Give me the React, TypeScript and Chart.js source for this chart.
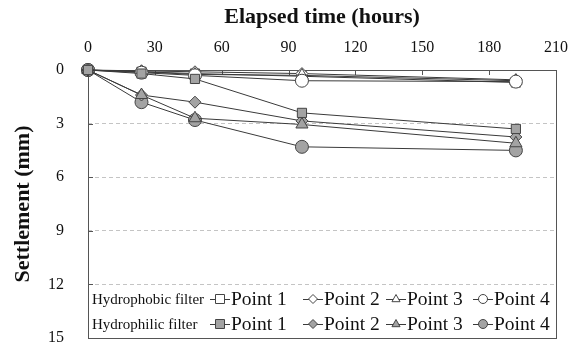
import React, { useEffect, useRef } from "react";
import { Chart, registerables } from "chart.js";

Chart.register(...registerables);

const hours = [0, 24, 48, 96, 192];
const phobic1 = [0, 0.1, 0.2, 0.35, 0.7];
const phobic2 = [0, 0.05, 0.1, 0.2, 0.55];
const phobic3 = [0, 0.1, 0.25, 0.3, 0.6];
const phobic4 = [0, 0.15, 0.3, 0.6, 0.65];
const philic1 = [0, 0.2, 0.5, 2.4, 3.3];
const philic2 = [0, 1.4, 1.8, 2.85, 3.75];
const philic3 = [0, 1.4, 2.7, 3.05, 4.1];
const philic4 = [0, 1.8, 2.8, 4.3, 4.5];

const xTicks = [0, 30, 60, 90, 120, 150, 180, 210];
const yTicks = [0, 3, 6, 9, 12, 15];
const pointLabels = ["Point 1", "Point 2", "Point 3", "Point 4"];
const groupLabels = ["Hydrophobic filter", "Hydrophilic filter"];

const FONT = "'Liberation Serif', 'Times New Roman', serif";
const LINE = "#3a3a3a";
const EDGE = "#444";
const FILL_OPEN = "#ffffff";
const FILL_GREY = "#a3a3a3";
const shapes = ["rect", "rectRot", "triangle", "circle"] as const;
const radii = [6.5, 6, 7, 6.5];

function drawMarker(ctx: CanvasRenderingContext2D, shape: string, x: number, y: number, r: number, fill: string) {
  ctx.save();
  ctx.beginPath();
  if (shape === "rect") {
    ctx.rect(x - r, y - r, 2 * r, 2 * r);
  } else if (shape === "rectRot") {
    ctx.moveTo(x, y - r);
    ctx.lineTo(x + r, y);
    ctx.lineTo(x, y + r);
    ctx.lineTo(x - r, y);
    ctx.closePath();
  } else if (shape === "triangle") {
    ctx.moveTo(x, y - r);
    ctx.lineTo(x + r * 0.9, y + r * 0.6);
    ctx.lineTo(x - r * 0.9, y + r * 0.6);
    ctx.closePath();
  } else {
    ctx.arc(x, y, r, 0, Math.PI * 2);
  }
  ctx.fillStyle = fill;
  ctx.fill();
  ctx.strokeStyle = EDGE;
  ctx.lineWidth = 1;
  ctx.stroke();
  ctx.restore();
}

const framePlugin = {
  id: "frame",
  beforeDatasetsDraw(chart: any) {
    const { ctx, chartArea } = chart;
    const { left, right, top, bottom } = chartArea;
    ctx.save();
    ctx.strokeStyle = "#555";
    ctx.lineWidth = 1;
    ctx.strokeRect(Math.round(left) + 0.5, Math.round(top) + 0.5, Math.round(right - left), Math.round(bottom - top));
    const xs = chart.scales.x;
    const ys = chart.scales.y;
    ctx.beginPath();
    xTicks.forEach((v) => {
      const px = Math.round(xs.getPixelForValue(v)) + 0.5;
      ctx.moveTo(px, top);
      ctx.lineTo(px, top + 5);
    });
    yTicks.forEach((v) => {
      const py = Math.round(ys.getPixelForValue(v)) + 0.5;
      ctx.moveTo(left, py);
      ctx.lineTo(left + 5, py);
    });
    ctx.stroke();
    ctx.restore();
  },
  afterDraw(chart: any) {
    const { ctx, chartArea } = chart;
    const { left, bottom } = chartArea;
    ctx.save();
    const markerX = [132, 225, 308, 395];
    const textX = [143, 236, 319, 406];
    const rowY = [bottom - 39, bottom - 14];
    groupLabels.forEach((g, gi) => {
      const y = rowY[gi];
      ctx.fillStyle = "#111";
      ctx.font = `15px ${FONT}`;
      ctx.textAlign = "left";
      ctx.textBaseline = "middle";
      ctx.fillText(g, left + 4, y + 1);
      pointLabels.forEach((p, pi) => {
        const mx = left + markerX[pi];
        ctx.beginPath();
        ctx.strokeStyle = LINE;
        ctx.lineWidth = 1;
        ctx.moveTo(mx - 10, y + 0.5);
        ctx.lineTo(mx + 10, y + 0.5);
        ctx.stroke();
        drawMarker(ctx, shapes[pi], mx, y, 4.5, gi === 0 ? FILL_OPEN : FILL_GREY);
        ctx.fillStyle = "#111";
        ctx.font = `19.5px ${FONT}`;
        ctx.fillText(p, left + textX[pi], y + 1);
      });
    });
    ctx.restore();
  },
};

function makeSet(label: string, values: number[], idx: number, filled: boolean, order: number) {
  return {
    label,
    data: hours.map((h, i) => ({ x: h, y: values[i] })),
    borderColor: LINE,
    borderWidth: 1,
    pointStyle: shapes[idx],
    pointRadius: radii[idx],
    pointBackgroundColor: filled ? FILL_GREY : FILL_OPEN,
    pointBorderColor: EDGE,
    pointBorderWidth: 1,
    fill: false,
    tension: 0,
    clip: false,
    order,
  };
}

export default function App() {
  const ref = useRef<HTMLCanvasElement | null>(null);
  useEffect(() => {
    document.body.style.margin = "0";
    const canvas = ref.current;
    if (!canvas) return;
    const chart = new Chart(canvas, {
      type: "line",
      data: {
        datasets: [
          makeSet("Hydrophobic Point 1", phobic1, 0, false, 8),
          makeSet("Hydrophobic Point 2", phobic2, 1, false, 7),
          makeSet("Hydrophobic Point 3", phobic3, 2, false, 6),
          makeSet("Hydrophobic Point 4", phobic4, 3, false, 5),
          makeSet("Hydrophilic Point 1", philic1, 0, true, 0),
          makeSet("Hydrophilic Point 2", philic2, 1, true, 3),
          makeSet("Hydrophilic Point 3", philic3, 2, true, 2),
          makeSet("Hydrophilic Point 4", philic4, 3, true, 4),
        ],
      },
      options: {
        responsive: false,
        animation: false,
        layout: { autoPadding: false, padding: { left: 0, right: 25, top: 0, bottom: 8 } },
        plugins: { legend: { display: false }, tooltip: { enabled: false } },
        scales: {
          x: {
            type: "linear",
            position: "top",
            min: 0,
            max: 210,
            afterBuildTicks: (s: any) => {
              s.ticks = xTicks.map((v) => ({ value: v }));
            },
            afterFit: (s: any) => {
              s.height = 70;
            },
            ticks: {
              font: { family: FONT, size: 16 },
              color: "#111",
              padding: 13,
            },
            grid: { display: false, drawTicks: false },
            border: { display: false },
            title: {
              display: true,
              text: "Elapsed time (hours)",
              font: { family: FONT, size: 22, weight: "bold" },
              color: "#111",
              padding: { top: 4, bottom: 0 },
            },
          },
          y: {
            type: "linear",
            reverse: true,
            min: 0,
            max: 15,
            afterBuildTicks: (s: any) => {
              s.ticks = yTicks.map((v) => ({ value: v }));
            },
            afterFit: (s: any) => {
              s.width = 88;
              s.paddingTop = 0;
              s.paddingBottom = 0;
            },
            ticks: {
              font: { family: FONT, size: 16 },
              color: "#111",
              padding: 24,
            },
            grid: {
              drawTicks: false,
              color: (c: any) => (c.tick && (c.tick.value === 0 || c.tick.value === 15) ? "rgba(0,0,0,0)" : "#c4c4c4"),
              lineWidth: 1,
            },
            border: { display: false, dash: [4, 3] },
            title: {
              display: true,
              text: "Settlement (mm)",
              font: { family: FONT, size: 22, weight: "bold" },
              color: "#111",
              padding: { top: 10, bottom: 0 },
            },
          },
        },
      },
      plugins: [framePlugin],
    } as any);
    return () => chart.destroy();
  }, []);
  return (
    <div style={{ width: 581, height: 346, background: "#fff" }}>
      <canvas ref={ref} width={581} height={346} style={{ display: "block" }} />
    </div>
  );
}
